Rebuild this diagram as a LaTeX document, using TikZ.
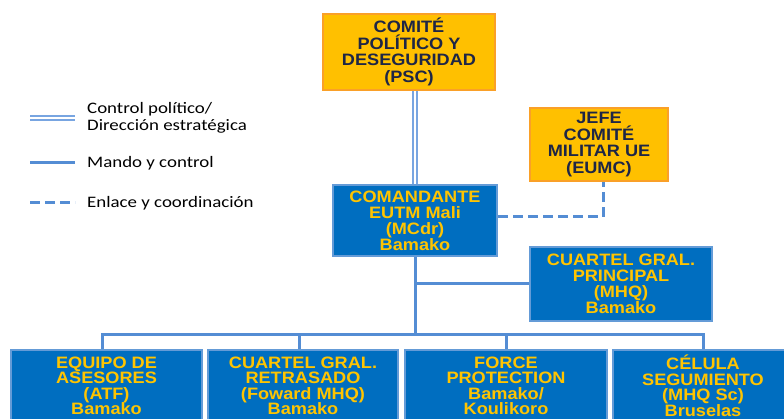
\documentclass[tikz,border=0pt]{standalone}
\usepackage{fontspec}
\newfontfamily\boxfont[FakeStretch=1.1]{Liberation Sans}
\newfontfamily\legfont[FakeStretch=1.18]{Carlito}
\definecolor{boxblue}{RGB}{0,110,192}
\definecolor{boxedge}{RGB}{100,155,215}
\definecolor{linkblue}{RGB}{84,141,212}
\definecolor{pollight}{RGB}{120,165,225}
\definecolor{txtyellow}{RGB}{255,196,0}
\definecolor{orfill}{RGB}{255,192,0}
\definecolor{oredge}{RGB}{250,160,40}
\definecolor{navy}{RGB}{30,38,70}
\tikzset{
  bluebox/.style={draw=boxedge, line width=2.5pt, fill=boxblue, text=txtyellow,
    inner sep=0pt, align=center, font=\boxfont\bfseries\fontsize{16.5}{16}\selectfont},
  lowbox/.style={bluebox, font=\boxfont\bfseries\fontsize{16.5}{15.5}\selectfont},
  orbox/.style={draw=oredge, line width=2.5pt, fill=orfill, text=navy,
    inner sep=0pt, align=center, font=\boxfont\bfseries\fontsize{16.5}{16.5}\selectfont},
  cmdline/.style={draw=linkblue, line width=3pt},
  polline/.style={draw=pollight, line width=1.6pt, double=white, double distance=2pt},
  linkline/.style={draw=linkblue, line width=3pt, dash pattern=on 10pt off 5pt},
  legtext/.style={anchor=base west, inner sep=0pt, font=\legfont\fontsize{16}{16}\selectfont}
}
\begin{document}
\begin{tikzpicture}[x=1pt,y=-1pt]
\useasboundingbox (0,0) rectangle (784,419);
\clip (0,0) rectangle (784,419);
\fill[white] (0,0) rectangle (784,419);

% boxes
\node[orbox, minimum width=172pt, minimum height=76pt] (psc) at (409,52)
  {COMITÉ\\POLÍTICO Y\\DESEGURIDAD\\(PSC)};
\node[orbox, minimum width=138pt, minimum height=73pt] (eumc) at (599,144.5)
  {JEFE\\COMITÉ\\MILITAR UE\\(EUMC)};
\node[bluebox, minimum width=164pt, minimum height=71pt] (mc) at (415,220.5)
  {COMANDANTE\\EUTM Mali\\(MCdr)\\Bamako};
\node[bluebox, minimum width=182pt, minimum height=74pt] (mhq) at (621,284)
  {CUARTEL GRAL.\\PRINCIPAL\\(MHQ)\\Bamako};
\node[lowbox, minimum width=191pt, minimum height=72pt] (b1) at (106.5,386)
  {EQUIPO DE\\ASESORES\\(ATF)\\Bamako};
\node[lowbox, minimum width=190pt, minimum height=72pt] (b2) at (303,386)
  {CUARTEL GRAL.\\RETRASADO\\(Foward MHQ)\\Bamako};
\node[lowbox, minimum width=202pt, minimum height=72pt] (b3) at (506,386)
  {FORCE\\PROTECTION\\Bamako/\\Koulikoro};
\node[lowbox, minimum width=180pt, minimum height=72pt] (b4) at (703,386)
  {CÉLULA\\SEGUMIENTO\\(MHQ Sc)\\Bruselas};

% connectors
\draw[polline] (mc.north |- psc.south) -- (mc.north);
\draw[linkline] (mc.east |- 0,217) -| ([xshift=4pt]eumc.south);
\coordinate (bus) at (415,335);
\draw[cmdline] (mc.south) -- (bus);
\draw[cmdline] (mhq.west) -- (mhq.west -| mc.south);
\draw[cmdline] ([xshift=-4pt]b1.north) |- (bus) -| (b4.north);
\draw[cmdline] ([xshift=-4pt]b2.north) -- ([xshift=-4pt]b2.north |- bus);
\draw[cmdline] (b3.north) -- (b3.north |- bus);

% legend
\coordinate (l1a) at (30,118); \coordinate (l1b) at (75,118);
\coordinate (l2a) at (30,163); \coordinate (l2b) at (75,163);
\coordinate (l3a) at (30,203); \coordinate (l3b) at (75,203);
\draw[polline] (l1a) -- (l1b);
\draw[cmdline] (l2a) -- (l2b);
\draw[linkline] (l3a) -- (l3b);
\node[legtext] (t1) at (87,114) {Control político/};
\node[legtext] (t2) at (87,131) {Dirección estratégica};
\node[legtext] (t3) at (87,168) {Mando y control};
\node[legtext] (t4) at (87,208) {Enlace y coordinación};
\end{tikzpicture}
\end{document}
